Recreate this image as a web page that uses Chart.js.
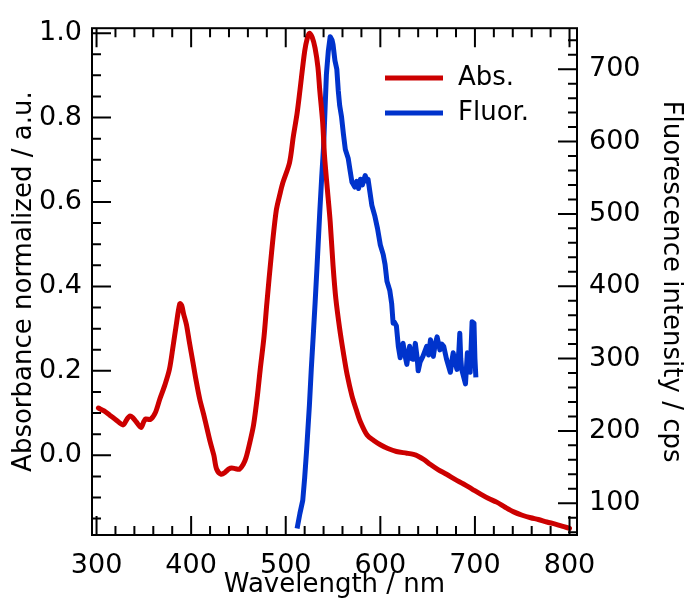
<!DOCTYPE html>
<html>
<head>
<meta charset="utf-8">
<script src="https://cdn.jsdelivr.net/npm/chart.js@4.4.0/dist/chart.umd.min.js"></script>
<style>
  html, body { margin: 0; padding: 0; background: #fff; }
</style>
</head>
<body>
<canvas id="chart" width="686" height="598"></canvas>
<script>
/* ── Data ───────────────────────────────────────────────────────────────── */

// Absorbance (normalized), left axis
const absWavelength = [
  302, 308, 314, 320, 328, 332, 335, 338, 342, 347, 350, 352, 357, 362, 367,
  372, 377, 381, 384, 388, 390, 392, 395, 398, 402, 405, 409, 414, 420, 424,
  427, 432, 436, 440, 443, 447, 451, 455, 458, 462, 466, 470, 473, 477, 480,
  485, 490, 494, 497, 504, 508, 512, 515, 520, 523, 525, 528, 531, 534, 536,
  539, 541, 544, 547, 550, 553, 557, 561, 565, 570, 575, 579, 586, 593, 600,
  608, 617, 628, 635, 640, 646, 653, 661, 670, 679, 688, 697, 706, 714, 723,
  732, 741, 750, 759, 767, 776, 785, 794, 800,
];
const absValues = [
  0.112, 0.105, 0.095, 0.085, 0.072, 0.085, 0.093, 0.090, 0.079, 0.066, 0.080, 0.086, 0.085, 0.100, 0.134,
  0.165, 0.203, 0.260, 0.305, 0.359, 0.355, 0.335, 0.310, 0.270, 0.219, 0.180, 0.134, 0.090, 0.033, 0.000,
  -0.033, -0.045, -0.040, -0.032, -0.030, -0.032, -0.033, -0.022, -0.006, 0.030, 0.072, 0.140, 0.203, 0.280, 0.359,
  0.480, 0.580, 0.620, 0.646, 0.693, 0.755, 0.810, 0.864, 0.957, 0.990, 1.000, 0.990, 0.965, 0.920, 0.864,
  0.790, 0.709, 0.630, 0.553, 0.450, 0.370, 0.300, 0.242, 0.190, 0.141, 0.105, 0.079, 0.048, 0.035, 0.025,
  0.016, 0.009, 0.005, 0.002, -0.002, -0.010, -0.022, -0.034, -0.045, -0.057, -0.068, -0.080, -0.092, -0.102, -0.111,
  -0.123, -0.134, -0.142, -0.148, -0.152, -0.158, -0.163, -0.169, -0.173,
];

// Fluorescence intensity (cps), right axis
const fluorWavelength = [
  512, 515, 518, 520, 522, 525, 527, 529, 531, 533, 536, 538, 540, 543, 545,
  547, 549, 550, 552, 554, 555.5, 557, 559, 561, 563, 566, 568, 570, 573, 575,
  577, 579, 581, 584, 586, 587, 589, 591, 594, 597, 600, 603, 605, 607, 610,
  612, 613.5, 615, 617, 619, 621, 622, 624, 626, 628, 630, 631, 633, 635, 637,
  639, 640, 642, 645, 647, 649, 651, 653, 655, 656, 658, 660, 662, 663, 665,
  667, 669, 670, 672, 674, 676, 677, 679, 681, 683, 684, 685, 686, 688, 690,
  692, 693, 695, 697, 699, 700, 701,
];
const fluorValues = [
  65, 86, 104, 135, 172, 235, 285, 330, 376, 425, 503, 550, 593, 693, 725,
  745, 740, 734, 712, 700, 671, 650, 634, 610, 589, 577, 560, 544, 537, 545,
  535, 548, 540, 553, 545, 548, 530, 512, 498, 480, 457, 444, 430, 407, 394,
  376, 349, 350, 345, 317, 301, 315, 321, 305, 292, 310, 317, 300, 299, 321,
  300, 283, 295, 303, 310, 317, 305, 326, 310, 303, 320, 330, 318, 312, 320,
  317, 305, 299, 290, 281, 300, 308, 295, 285, 310, 335, 300, 285, 275, 265,
  308, 295, 281, 351, 349, 300, 274,
];

// Tick labels
const xTicks      = [300, 400, 500, 600, 700, 800];
const absTicks    = [0.0, 0.2, 0.4, 0.6, 0.8, 1.0];
const fluorTicks  = [100, 200, 300, 400, 500, 600, 700];

/* ── Style ──────────────────────────────────────────────────────────────── */

const COLORS = {
    abs:   '#cc0000',
    fluor: '#0033cc',
    ink:   '#000000',
};
const FONT = "'DejaVu Sans', sans-serif";

const pairs = (xs, ys) => xs.map((x, i) => ({ x, y: ys[i] }));

// Inward tick marks + full frame, drawn through the chart's own scales
const frameTicks = {
    id: 'frameTicks',
    afterDatasetsDraw(chart) {
        const { ctx, chartArea: a, scales } = chart;
        ctx.save();
        ctx.strokeStyle = COLORS.ink;
        ctx.lineWidth = 2;
        ctx.beginPath();

        // x: minor every 20 nm, major every 100
        for (let v = 300; v <= 800; v += 20) {
            const px = scales.x.getPixelForValue(v);
            const len = v % 100 === 0 ? 19 : 9;
            ctx.moveTo(px, a.bottom); ctx.lineTo(px, a.bottom - len);
            ctx.moveTo(px, a.top);    ctx.lineTo(px, a.top + len);
        }
        // left y: minor every 0.05, major every 0.2
        for (let i = -3; i <= 20; i++) {
            const py = scales.y.getPixelForValue(i * 0.05);
            const len = i % 4 === 0 ? 19 : 9;
            ctx.moveTo(a.left, py); ctx.lineTo(a.left + len, py);
        }
        // right y: minor every 20, major every 100
        for (let v = 60; v <= 740; v += 20) {
            const py = scales.y1.getPixelForValue(v);
            const len = v % 100 === 0 ? 19 : 9;
            ctx.moveTo(a.right, py); ctx.lineTo(a.right - len, py);
        }
        ctx.stroke();
        ctx.strokeRect(a.left, a.top, a.width, a.height);
        ctx.restore();
    },
    afterDraw(chart) {
        const { ctx } = chart;
        ctx.save();
        ctx.font = `26px ${FONT}`;
        ctx.textBaseline = 'middle';
        ctx.fillStyle = COLORS.ink;
        ctx.lineWidth = 5;
        chart.data.datasets.forEach((ds, i) => {
            const y = 78 + i * 35;
            ctx.strokeStyle = ds.borderColor;
            ctx.beginPath();
            ctx.moveTo(385, y); ctx.lineTo(443, y);
            ctx.stroke();
            ctx.fillText(ds.label, 458, y);
        });
        ctx.restore();
    },
};

/* ── Chart ──────────────────────────────────────────────────────────────── */

const tickFont  = { family: FONT, size: 27 };
const titleFont = { family: FONT, size: 26 };

new Chart(document.getElementById('chart').getContext('2d'), {
    type: 'scatter',
    data: {
        datasets: [
            {
                label: 'Abs.',
                data: pairs(absWavelength, absValues),
                yAxisID: 'y',
                showLine: true,
                borderColor: COLORS.abs,
                borderWidth: 5,
                borderJoinStyle: 'round',
                borderCapStyle: 'round',
                pointRadius: 0,
                tension: 0.3,
            },
            {
                label: 'Fluor.',
                data: pairs(fluorWavelength, fluorValues),
                yAxisID: 'y1',
                showLine: true,
                borderColor: COLORS.fluor,
                borderWidth: 5,
                borderJoinStyle: 'round',
                pointRadius: 0,
                tension: 0,
            },
        ],
    },
    options: {
        responsive: false,
        animation: false,
        layout: { padding: { top: 20, left: 0, right: 0, bottom: 0 } },
        plugins: {
            legend:  { display: false },
            tooltip: { enabled: false },
        },
        scales: {
            x: {
                type: 'linear',
                min: 295.2,
                max: 807.9,
                afterBuildTicks: s => { s.ticks = xTicks.map(value => ({ value })); },
                afterFit: s => { s.height = 63; },
                grid:   { display: false, drawTicks: false },
                border: { display: false },
                ticks:  { color: COLORS.ink, font: tickFont, padding: 15, maxRotation: 0 },
                title:  { display: true, text: 'Wavelength / nm', color: COLORS.ink, font: titleFont, padding: { top: 0, bottom: -3 } },
            },
            y: {
                position: 'left',
                min: -0.1888,
                max: 1.0117,
                afterBuildTicks: s => { s.ticks = absTicks.map(value => ({ value })); },
                afterFit: s => { s.width = 92; },
                grid:   { display: false, drawTicks: false },
                border: { display: false },
                ticks:  { color: COLORS.ink, font: tickFont, padding: 10, callback: v => v.toFixed(1) },
                title:  { display: true, text: 'Absorbance normalized / a.u.', color: COLORS.ink, font: titleFont, padding: { top: 9, bottom: 0 } },
            },
            y1: {
                position: 'right',
                min: 56.1,
                max: 756.7,
                afterBuildTicks: s => { s.ticks = fluorTicks.map(value => ({ value })); },
                afterFit: s => { s.width = 109; },
                grid:   { display: false, drawTicks: false },
                border: { display: false },
                ticks:  { color: COLORS.ink, font: tickFont, padding: 12 },
                title:  { display: true, text: 'Fluorescence intensity / cps', color: COLORS.ink, font: titleFont, padding: { top: 0, bottom: 0 } },
            },
        },
    },
    plugins: [frameTicks],
});
</script>
</body>
</html>
